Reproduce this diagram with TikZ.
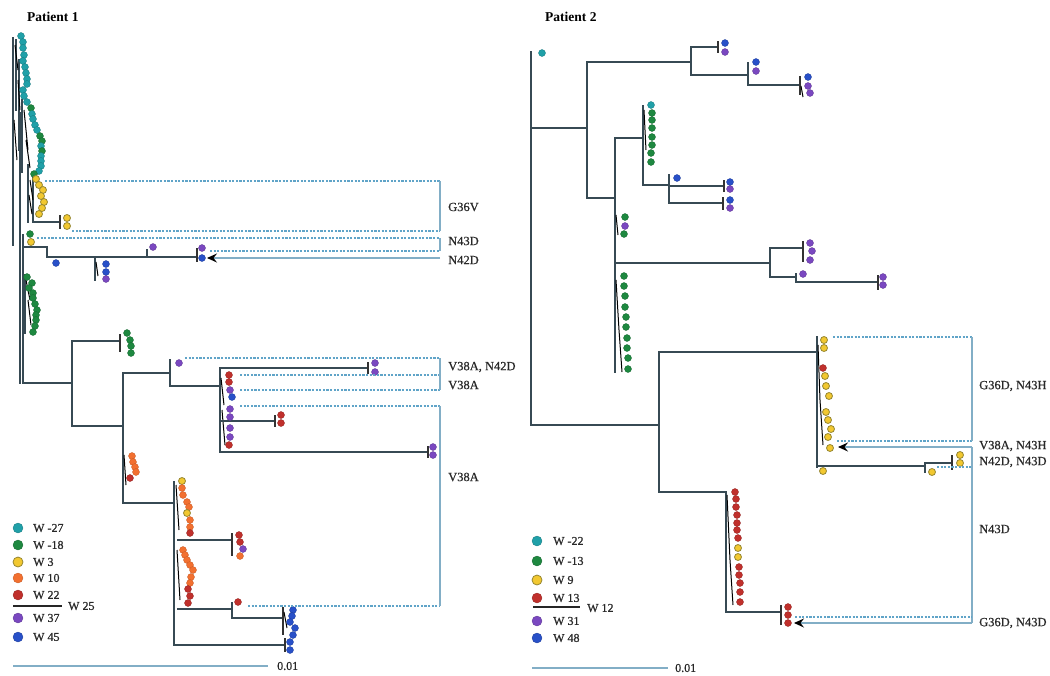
\documentclass[tikz,border=0pt]{standalone}
\usepackage{fontspec}
\setmainfont{Liberation Serif}
\newfontfamily\lbf{Liberation Serif}[FakeBold=0.6]
\usetikzlibrary{arrows.meta}
\definecolor{cT}{RGB}{32,160,168}
\definecolor{cG}{RGB}{30,136,64}
\definecolor{cY}{RGB}{242,200,48}
\definecolor{cYo}{RGB}{150,135,50}
\definecolor{cO}{RGB}{242,112,48}
\definecolor{cR}{RGB}{192,48,44}
\definecolor{cP}{RGB}{122,72,192}
\definecolor{cB}{RGB}{40,80,200}
\definecolor{cTree}{RGB}{55,74,84}
\definecolor{cDash}{RGB}{96,164,200}
\definecolor{cBr}{RGB}{130,174,198}
\definecolor{cTxt}{RGB}{40,40,40}
\tikzset{
  dT/.style={fill=cT,draw=cT!75!black,line width=0.3pt},
  dG/.style={fill=cG,draw=cG!75!black,line width=0.3pt},
  dY/.style={fill=cY,draw=cYo,line width=0.8pt},
  dO/.style={fill=cO,draw=cO!80!black,line width=0.3pt},
  dR/.style={fill=cR,draw=cR!75!black,line width=0.3pt},
  dP/.style={fill=cP,draw=cP!75!black,line width=0.3pt},
  dB/.style={fill=cB,draw=cB!75!black,line width=0.3pt},
  tr/.style={draw=cTree,line width=1.6pt,line cap=rect},
  trk/.style={draw=black,line width=1pt},
  bar/.style={draw=black!80,line width=1.3pt},
  dsh/.style={draw=cDash,line width=1.1pt,dash pattern=on 2.2pt off 1.4pt},
  brk/.style={draw=cBr,line width=1.1pt},
  arr/.style={draw=cBr,line width=1.1pt,-{Stealth[length=10pt,width=9pt,inset=3.5pt,color=black]}},
  lab/.style={font=\lbf\fontsize{12.5}{13}\selectfont,text=cTxt,anchor=west,inner sep=0pt},
  leg/.style={font=\lbf\fontsize{12}{13}\selectfont,text=cTxt,anchor=west,inner sep=0pt},
  ttl/.style={font=\fontsize{13.5}{14}\selectfont\bfseries,text=black,anchor=west,inner sep=0pt}
}
\begin{document}
\begin{tikzpicture}[x=1pt,y=-1pt]
\useasboundingbox (0,0) rectangle (1050,675);
% ================= PATIENT 1 =================
\node[ttl] (t1) at (27,17) {Patient 1};
% top clade lines
\draw[tr] (13,38)--(13,245);
\draw[tr] (16,40)--(16,110);
\draw[tr] (19,60)--(19,150);
\draw[tr] (22,100)--(22,172);
\draw[tr] (28,165)--(28,222);
\draw[tr] (33,175)--(33,222)--(60,222);
\draw[bar] (60,215)--(60,229);
\draw[trk] (15,45)--(18,70) (18,80)--(20,110) (24,110)--(28,150) (26,140)--(30,168) (30,180)--(33,200) (29,195)--(32,214) (14,120)--(17,160);
% lower early clades
\draw[tr] (20,113)--(20,383);
\draw[tr] (23,235)--(23,383)--(72,383);
\draw[tr] (23,247)--(47,247)--(47,257)--(197,257);
\draw[tr] (147,257)--(147,250);
\draw[bar] (197,248)--(197,262);
\draw[tr] (95,257)--(95,280);
\draw[trk] (96,262)--(98,276);
\draw[tr] (25,275)--(25,333);
\draw[trk] (26,280)--(30,300) (28,300)--(31,325);
% main lower tree
\draw[tr] (72,341)--(72,426);
\draw[tr] (72,341)--(120,341);
\draw[bar] (120,334)--(120,352);
\draw[tr] (72,426)--(123,426);
\draw[tr] (123,373)--(123,503);
\draw[trk] (124,455)--(126,485);
\draw[tr] (123,373)--(170,373);
\draw[tr] (170,360)--(170,386)--(220,386);
\draw[tr] (220,368)--(220,452);
\draw[trk] (221,378)--(224,405) (222,410)--(225,445);
\draw[tr] (220,368)--(368,368);
\draw[bar] (368,362)--(368,374);
\draw[tr] (222,421)--(275,421);
\draw[bar] (275,415)--(275,427);
\draw[tr] (222,452)--(428,452);
\draw[bar] (428,446)--(428,458);
\draw[tr] (123,503)--(174,503);
\draw[tr] (174,482)--(174,645);
\draw[trk] (176,485)--(179,530) (177,550)--(180,600);
\draw[tr] (178,540)--(232,540);
\draw[bar] (232,533)--(232,556);
\draw[tr] (178,609)--(232,609);
\draw[tr] (232,603)--(232,618)--(283,618);
\draw[bar] (283,607)--(283,635);
\draw[trk] (284,612)--(287,628);
\draw[tr] (174,645)--(285,645);
\draw[bar] (285,638)--(285,652);
% dots patient 1
\foreach \x/\y/\s in {21/36/dT,23/42/dT,23/48/dT,24/55/dT,23/61/dT,25/67/dT,26/73/dT,27/79/dT,27/84/dT,23/90/dT,24/96/dT,27/102/dT,31/108/dG,32/114/dT,33/119/dT,35/125/dT,37/130/dT,40/136/dG,42/141/dG,41/146/dT,42/151/dG,41/156/dT,41/161/dT,41/166/dT,39/171/dT,34/174/dG,
36/179/dY,39/185/dY,43/190/dY,41/196/dY,44/202/dY,42/208/dY,39/214/dY,67/218/dY,67/226/dY,
30/234/dG,31/242/dY,56/263/dB,106/264/dB,106/272/dB,106/279/dP,153/247/dP,202/248/dP,202/258/dB,
27/277/dG,32/283/dG,29/288/dG,33/293/dG,33/298/dG,35/304/dG,37/310/dG,36/315/dG,36/320/dG,35/326/dG,33/332/dG,
127/333/dG,130/340/dG,131/346/dG,131/353/dG,
179/363/dP,375/363/dP,375/372/dP,
229/375/dR,229/382/dR,230/390/dP,232/397/dB,230/409/dP,230/417/dP,281/415/dR,281/423/dR,230/428/dP,230/437/dP,229/445/dR,433/447/dP,433/455/dP,
132/456/dO,133/462/dO,135/467/dO,136/472/dO,130/478/dR,
182/481/dY,182/488/dO,183/495/dO,187/502/dO,189/507/dO,187/513/dY,190/520/dO,190/527/dO,190/533/dR,
239/535/dR,240/542/dR,243/549/dP,240/556/dO,
183/550/dO,185/555/dO,187/560/dO,190/565/dO,193/570/dO,191/577/dO,190/583/dO,188/589/dR,190/596/dR,188/603/dR,
238/602/dR,293/610/dB,292/616/dB,290/622/dB,295/628/dB,293/635/dB,290/642/dB,290/650/dB}
  \path[\s] (\x,\y) circle[radius=3.5pt];
% brackets patient 1
\draw[dsh] (45,181)--(440,181);
\draw[dsh] (72,231)--(440,231);
\draw[brk] (440,181)--(440,231);
\node[lab] (g36v) at (448,207) {G36V};
\draw[dsh] (37,238)--(440,238);
\draw[dsh] (210,251)--(440,251);
\draw[brk] (440,238)--(440,251);
\node[lab] (n43d1) at (448,241) {N43D};
\coordinate (a1s) at (440,258);
\coordinate (a1e) at (207,258);
\draw[arr] (a1s)--(a1e);
\node[lab] (n42d1) at (448,260) {N42D};
\draw[dsh] (185,358)--(440,358);
\draw[dsh] (240,375)--(440,375);
\draw[dsh] (240,390)--(440,390);
\draw[brk] (440,358)--(440,390);
\node[lab] (v38n42) at (448,367) {V38A, N42D};
\node[lab] (v38a1) at (448,385) {V38A};
\draw[dsh] (240,406)--(440,406);
\draw[dsh] (248,606)--(440,606);
\draw[brk] (440,406)--(440,606);
\node[lab] (v38a2) at (448,477) {V38A};
% legend patient 1
\foreach \y/\s/\t in {528/dT/W -27,545/dG/W -18,562/dY/W 3,578/dO/W 10,595/dR/W 22,618/dP/W 37,637/dB/W 45}{
  \path[\s] (18,\y) circle[radius=5pt];
  \node[leg] at (33,\y) {\t};
}
\draw[draw=black!85,line width=1.8pt] (13,606)--(62,606);
\node[leg] (w25) at (68,606) {W 25};
\draw[draw=cBr,line width=1.3pt] (13,666)--(268,666);
\node[leg] (sb1) at (277,666) {0.01};
% ================= PATIENT 2 =================
\node[ttl] (t2) at (545,17) {Patient 2};
\draw[tr] (531,52)--(531,425)--(659,425);
\draw[tr] (531,128)--(587,128);
\draw[tr] (587,62)--(587,198)--(615,198);
\draw[tr] (587,62)--(691,62);
\draw[tr] (691,47)--(691,75);
\draw[tr] (691,47)--(718,47);
\draw[bar] (718,41)--(718,53);
\draw[tr] (691,75)--(748,75);
\draw[tr] (748,63)--(748,85)--(800,85);
\draw[bar] (800,76)--(800,95);
\draw[trk] (801,86)--(803,97);
\draw[tr] (615,138)--(615,372);
\draw[trk] (616,280)--(619,330) (619,330)--(622,372) (616,215)--(618,235);
\draw[tr] (615,138)--(643,138);
\draw[tr] (643,106)--(643,185)--(669,185);
\draw[trk] (644,110)--(646,150);
\draw[tr] (669,175)--(669,203);
\draw[tr] (669,186)--(724,186);
\draw[bar] (724,180)--(724,192);
\draw[tr] (669,203)--(723,203);
\draw[bar] (723,197)--(723,210);
\draw[tr] (615,263)--(770,263);
\draw[tr] (770,248)--(770,277);
\draw[tr] (770,248)--(803,248);
\draw[bar] (803,241)--(803,262);
\draw[tr] (770,277)--(796,277);
\draw[tr] (796,274)--(796,282)--(878,282);
\draw[bar] (878,275)--(878,290);
% lower part patient 2
\draw[tr] (659,352)--(659,492);
\draw[tr] (659,352)--(817,352);
\draw[tr] (817,337)--(817,467);
\draw[trk] (818,345)--(820,400) (820,400)--(823,445);
\draw[tr] (817,466)--(925,466);
\draw[tr] (925,463)--(925,472);
\draw[tr] (925,463)--(952,463);
\draw[bar] (952,455)--(952,470);
\draw[tr] (659,492)--(726,492);
\draw[tr] (726,492)--(726,612);
\draw[trk] (727,495)--(730,560) (730,560)--(733,605);
\draw[tr] (726,612)--(781,612);
\draw[bar] (781,605)--(781,625);
% dots patient 2
\foreach \x/\y/\s in {542/53/dT,725/43/dB,725/52/dP,756/62/dB,756/71/dP,808/77/dB,808/86/dP,810/93/dP,
651/105/dT,652/113/dG,652/120/dG,652/128/dG,652/137/dG,652/145/dG,651/153/dG,651/162/dG,
677/178/dB,730/182/dB,730/189/dP,730/200/dB,730/208/dP,
625/217/dG,625/226/dP,624/234/dG,
810/243/dP,812/251/dP,810/260/dP,803/274/dP,883/277/dP,883/285/dP,
624/276/dG,624/286/dG,625/296/dG,625/307/dG,626/317/dG,626/327/dG,627/338/dG,627/348/dG,628/358/dG,628/369/dG,
824/340/dY,824/348/dY,823/368/dR,825/376/dY,826/386/dY,829/396/dY,826/412/dY,828/420/dY,831/429/dY,828/437/dY,830/448/dY,823/471/dY,
960/455/dY,960/463/dY,932/472/dY,
735/492/dR,736/499/dR,736/507/dR,737/515/dR,737/523/dR,737/530/dR,738/538/dR,738/548/dY,738/557/dY,739/567/dR,739/575/dR,740/583/dR,740/592/dR,740/602/dR,
788/607/dR,788/615/dR,788/623/dR}
  \path[\s] (\x,\y) circle[radius=3.5pt];
% brackets patient 2
\draw[dsh] (833,337)--(972,337);
\draw[dsh] (837,441)--(972,441);
\draw[brk] (972,337)--(972,441);
\node[lab] (g36n43h) at (979,386) {G36D, N43H};
\coordinate (a2s) at (972,447);
\coordinate (a2e) at (838,447);
\draw[arr] (a2s)--(a2e);
\node[lab] (v38n43h) at (979,446) {V38A, N43H};
\draw[dsh] (937,467)--(972,467);
\node[lab] (n42n43d) at (979,462) {N42D, N43D};
\draw[brk] (972,447)--(972,623);
\node[lab] (n43d2) at (979,529) {N43D};
\draw[dsh] (795,617)--(972,617);
\coordinate (a3s) at (972,623);
\coordinate (a3e) at (794,623);
\draw[arr] (a3s)--(a3e);
\node[lab] (g36n43d) at (979,623) {G36D, N43D};
% legend patient 2
\foreach \y/\s/\t in {541/dT/W -22,561/dG/W -13,580/dY/W 9,598/dR/W 13,621/dP/W 31,638/dB/W 48}{
  \path[\s] (537,\y) circle[radius=5pt];
  \node[leg] at (553,\y) {\t};
}
\draw[draw=black!85,line width=1.8pt] (533,607)--(580,607);
\node[leg] (w12) at (587,608) {W 12};
\draw[draw=cBr,line width=1.3pt] (532,668)--(668,668);
\node[leg] (sb2) at (675,668) {0.01};
\end{tikzpicture}
\end{document}
